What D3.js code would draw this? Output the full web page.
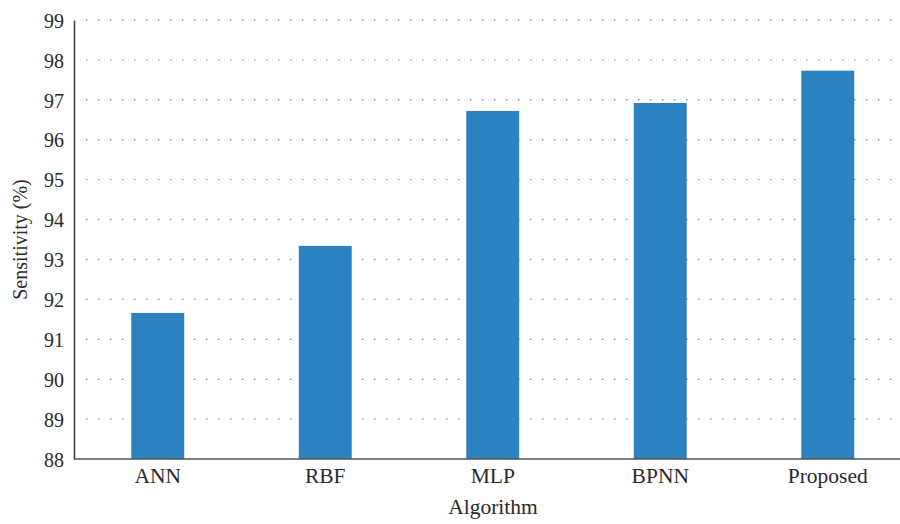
<!DOCTYPE html>
<html>
<head>
<meta charset="utf-8">
<script src="https://cdn.jsdelivr.net/npm/d3@7"></script>
<style>
  body { margin: 0; background: #fff; }
  text { font-family: "Liberation Serif", "DejaVu Serif", serif; fill: #2a2a2a; }
</style>
</head>
<body>
<div id="chart"></div>
<script>
// data
var algorithms = ["ANN", "RBF", "MLP", "BPNN", "Proposed"];
var sensitivity = [91.66, 93.34, 96.72, 96.92, 97.73];
var yTicks = [88, 89, 90, 91, 92, 93, 94, 95, 96, 97, 98, 99];

var W = 900, H = 524;
var margin = {top: 20, right: 0, bottom: 65, left: 74};
var plotBottom = 459;

var svg = d3.select("#chart")
  .append("svg")
    .attr("width", W)
    .attr("height", H);

var x = d3.scaleBand()
  .domain(algorithms)
  .range([margin.left, 911.5])
  .paddingInner(0.684)
  .paddingOuter(0.342);

var y = d3.scaleLinear()
  .domain([88, 99])
  .range([plotBottom, margin.top]);

// dotted gridlines
svg.append("g")
  .selectAll("line")
  .data(yTicks.slice(1))
  .enter()
  .append("line")
    .attr("x1", 86)
    .attr("x2", 895)
    .attr("y1", function(d) { return y(d); })
    .attr("y2", function(d) { return y(d); })
    .attr("stroke", "#888")
    .attr("stroke-width", 1.4)
    .attr("stroke-dasharray", "1.4,10.6");

// bars
svg.append("g")
  .selectAll("rect")
  .data(sensitivity)
  .enter()
  .append("rect")
    .attr("x", function(d, i) { return x(algorithms[i]); })
    .attr("width", x.bandwidth())
    .attr("y", function(d) { return y(d); })
    .attr("height", function(d) { return plotBottom - y(d); })
    .attr("fill", "#2b83c2");

// y axis
var yAxis = svg.append("g")
  .attr("transform", "translate(" + margin.left + ",0)")
  .call(d3.axisLeft(y).tickValues(yTicks).tickSize(0).tickPadding(10).tickFormat(d3.format("d")));
yAxis.select(".domain").attr("stroke", "#444").attr("stroke-width", 1.6);
yAxis.selectAll("text").style("font-size", "20px").attr("dy", "0.36em");

// x axis
var xAxis = svg.append("g")
  .attr("transform", "translate(0," + plotBottom + ")")
  .call(d3.axisBottom(x).tickSize(0).tickPadding(9));
xAxis.select(".domain").attr("d", "M" + margin.left + ",0H" + W)
  .attr("stroke", "#555").attr("stroke-width", 1.6);
xAxis.selectAll("text").style("font-size", "21.5px");

// axis titles
svg.append("text")
  .attr("x", 493)
  .attr("y", 514)
  .attr("text-anchor", "middle")
  .style("font-size", "21.5px")
  .text("Algorithm");

svg.append("text")
  .attr("transform", "translate(27," + ((margin.top + plotBottom) / 2) + ") rotate(-90)")
  .attr("text-anchor", "middle")
  .style("font-size", "20px")
  .text("Sensitivity (%)");
</script>
</body>
</html>
